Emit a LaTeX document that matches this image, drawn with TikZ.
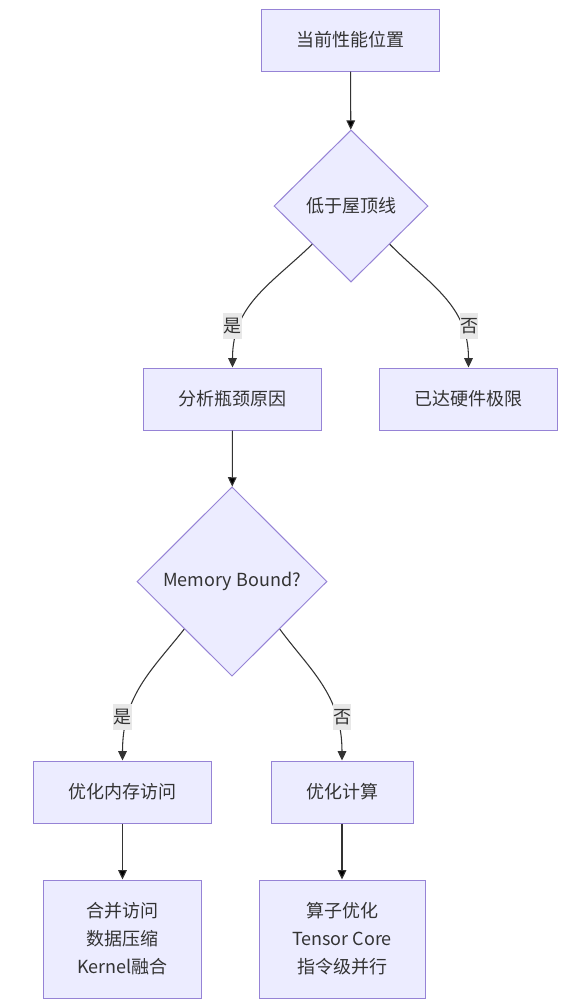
\documentclass[tikz,border=0pt]{standalone}
\usepackage{fontspec}
\setmainfont{Noto Sans CJK SC}
\usetikzlibrary{shapes.geometric,arrows.meta}
\definecolor{boxfill}{HTML}{ECECFF}
\definecolor{boxline}{HTML}{9683D6}
\definecolor{txt}{HTML}{333333}
\definecolor{lblfill}{HTML}{E8E8E8}
\tikzset{
  box/.style={shape=rectangle,draw=boxline,fill=boxfill,text=txt,line width=0.75pt,
    font=\fontsize{13.5}{21}\selectfont,align=center,inner sep=0pt},
  decision/.style={shape=diamond,draw=boxline,fill=boxfill,text=txt,line width=0.75pt,
    font=\fontsize{13.5}{21}\selectfont,inner sep=0pt},
  lbl/.style={fill=lblfill,text=txt,inner sep=0pt,minimum width=14pt,minimum height=20pt,
    font=\fontsize{13.5}{15}\selectfont},
  arr/.style={draw=txt,line width=0.8pt,-{Triangle[length=7pt,width=6.5pt]}}
}
\begin{document}
\begin{tikzpicture}[x=0.75pt,y=-0.75pt]
\useasboundingbox[fill=white] (0,0) rectangle (567,1008);
\node(cur) at (350.5,40)[box,minimum width=134pt,minimum height=46.5pt]{当前性能位置};
\node(roof) at (351,206)[decision,minimum width=115.5pt,minimum height=114pt]{低于屋顶线};
\node(why) at (232.5,399)[box,minimum width=134pt,minimum height=46.5pt]{分析瓶颈原因};
\node(limit) at (468.5,399)[box,minimum width=134pt,minimum height=46.5pt]{已达硬件极限};
\node(mem) at (232,581.5)[decision,minimum width=142.5pt,minimum height=142pt]{Memory Bound?};
\node(memopt) at (122.5,792)[box,minimum width=134pt,minimum height=46.5pt]{优化内存访问};
\node(compopt) at (342,792)[box,minimum width=106.5pt,minimum height=46.5pt]{优化计算};
\node(memlist) at (122.5,939)[box,minimum width=119pt,minimum height=88.5pt]{合并访问\\数据压缩\\Kernel融合};
\node(complist) at (342,939)[box,minimum width=124.5pt,minimum height=88.5pt]{算子优化\\Tensor Core\\指令级并行};
% connectors
\path [arr]
  (cur)      edge   (roof)
  (why)      edge   (mem)
  (memopt)   edge   (memlist)
  (compopt)  edge   (complist);
\draw [arr] (roof.south west) .. controls (270,285) and (232.5,305) .. (why.north);
\draw [arr] (roof.south east) .. controls (430,285) and (468.5,305) .. (limit.north);
\draw [arr] (mem.south west) .. controls (152,670) and (122.5,695) .. (memopt.north);
\draw [arr] (mem.south east) .. controls (310,670) and (342,695) .. (compopt.north);
% labels
\node(yes1) at (232.5,326)[lbl]{是};
\node(no1) at (469,326)[lbl]{否};
\node(yes2) at (122.5,717)[lbl]{是};
\node(no2) at (342,717)[lbl]{否};
\end{tikzpicture}
\end{document}
